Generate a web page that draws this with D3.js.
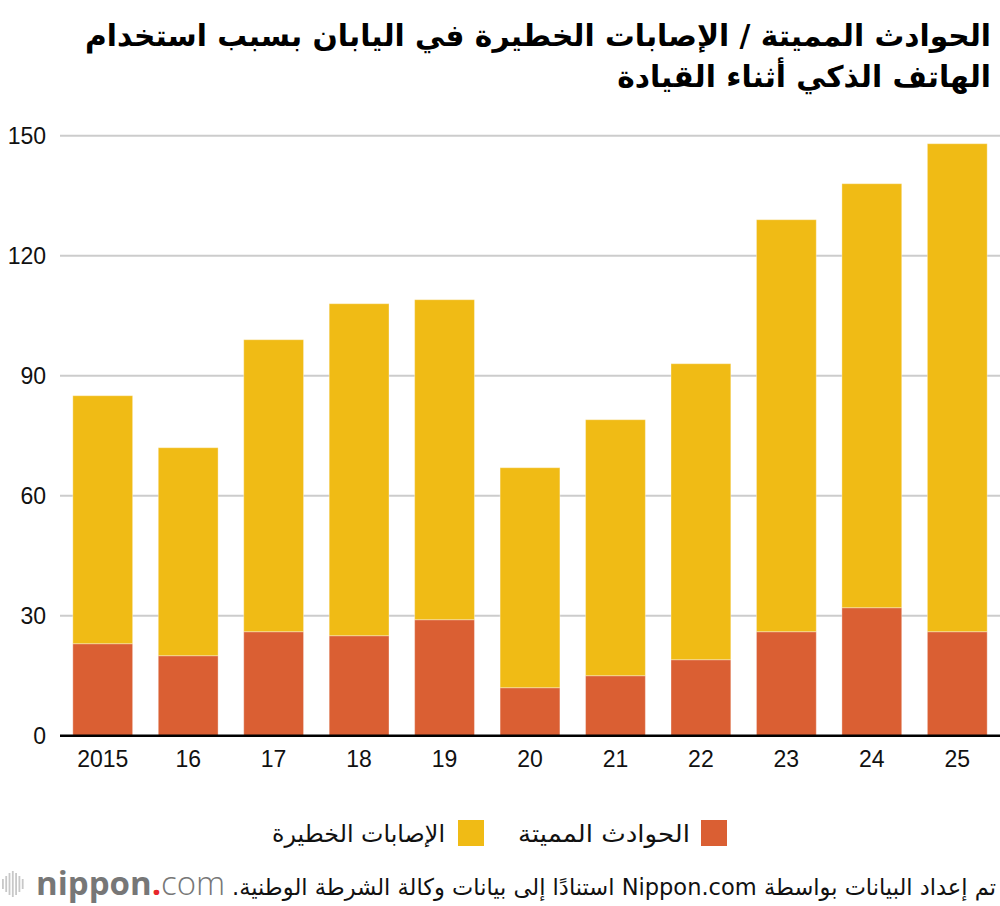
<!DOCTYPE html>
<html>
<head>
<meta charset="utf-8">
<script src="https://cdn.jsdelivr.net/npm/d3@7"></script>
<style>
  html, body { margin: 0; padding: 0; background: #fff; }
  svg { display: block; }
</style>
</head>
<body>
<svg id="chart" width="1000" height="906"></svg>
<script>
// data
const years = ["2015", "16", "17", "18", "19", "20", "21", "22", "23", "24", "25"];
const fatal = [23, 20, 26, 25, 29, 12, 15, 19, 26, 32, 26];
const serious = [62, 52, 73, 83, 80, 55, 64, 74, 103, 106, 122];
const yTicks = [0, 30, 60, 90, 120, 150];

const seriesNames = ["الحوادث المميتة", "الإصابات الخطيرة"];
const ORANGE = "#da5f33";
const YELLOW = "#f0bb15";

const ARABIC = "'DejaVu Sans', sans-serif";
const LATIN = "'Liberation Sans', Arial, sans-serif";

const svg = d3.select("#chart");

const x = d3.scaleBand()
    .domain(years)
    .range([60, 1000])
    .paddingInner(0.3)
    .paddingOuter(0.15);

const y = d3.scaleLinear()
    .domain([0, 150])
    .range([735.7, 135.7]);

// title, two right-aligned lines
const title = svg.append("text")
    .attr("direction", "rtl")
    .attr("text-anchor", "start")
    .attr("font-family", ARABIC)
    .attr("font-weight", "bold")
    .attr("font-size", 29.7)
    .attr("fill", "#000");
title.append("tspan").attr("x", 991).attr("y", 46)
    .text("الحوادث المميتة / الإصابات الخطيرة في اليابان بسبب استخدام");
title.append("tspan").attr("x", 991).attr("y", 87)
    .text("الهاتف الذكي أثناء القيادة");

// gridlines
svg.append("g")
    .selectAll("line")
    .data(yTicks.filter(d => d > 0))
    .join("line")
    .attr("x1", 60).attr("x2", 1000)
    .attr("y1", d => y(d)).attr("y2", d => y(d))
    .attr("stroke", "#cccccc")
    .attr("stroke-width", 2);

// y tick labels
svg.append("g")
    .selectAll("text")
    .data(yTicks)
    .join("text")
    .attr("x", 46)
    .attr("y", d => y(d))
    .attr("dy", "0.36em")
    .attr("text-anchor", "end")
    .attr("font-family", LATIN)
    .attr("font-size", 23)
    .attr("fill", "#111")
    .text(d => d);

// stacked bars
const rows = years.map((yr, i) => ({year: yr, fatal: fatal[i], serious: serious[i]}));
const stack = d3.stack().keys(["fatal", "serious"])(rows);
const colors = [ORANGE, YELLOW];

svg.append("g")
    .selectAll("g")
    .data(stack)
    .join("g")
    .attr("fill", (d, i) => colors[i])
    .selectAll("rect")
    .data(d => d)
    .join("rect")
    .attr("x", d => x(d.data.year))
    .attr("y", d => y(d[1]))
    .attr("width", x.bandwidth())
    .attr("height", d => y(d[0]) - y(d[1]))
    .attr("stroke", "rgba(255,255,255,0.35)")
    .attr("stroke-width", 1);

// x axis baseline
svg.append("line")
    .attr("x1", 60).attr("x2", 1000)
    .attr("y1", y(0)).attr("y2", y(0))
    .attr("stroke", "#000")
    .attr("stroke-width", 2.5);

// x labels
svg.append("g")
    .selectAll("text")
    .data(years)
    .join("text")
    .attr("x", d => x(d) + x.bandwidth() / 2)
    .attr("y", 767)
    .attr("text-anchor", "middle")
    .attr("font-family", LATIN)
    .attr("font-size", 23)
    .attr("fill", "#111")
    .text(d => d);

// legend
const legendItems = [
    {name: seriesNames[0], color: ORANGE, boxX: 701, textX: 690, w: 172},
    {name: seriesNames[1], color: YELLOW, boxX: 458, textX: 445, w: 173}
];
const lg = svg.append("g");
lg.selectAll("rect")
    .data(legendItems)
    .join("rect")
    .attr("x", d => d.boxX)
    .attr("y", 820)
    .attr("width", 26)
    .attr("height", 26)
    .attr("fill", d => d.color);
lg.selectAll("text")
    .data(legendItems)
    .join("text")
    .attr("x", d => d.textX)
    .attr("y", 842)
    .attr("direction", "rtl")
    .attr("text-anchor", "start")
    .attr("textLength", d => d.w)
    .attr("lengthAdjust", "spacingAndGlyphs")
    .attr("font-family", ARABIC)
    .attr("font-size", 24)
    .attr("fill", "#111")
    .text(d => d.name);

// source note
svg.append("text")
    .attr("x", 996)
    .attr("y", 895)
    .attr("direction", "rtl")
    .attr("text-anchor", "start")
    .attr("textLength", 764)
    .attr("lengthAdjust", "spacingAndGlyphs")
    .attr("font-family", ARABIC)
    .attr("font-size", 23)
    .attr("fill", "#111")
    .text("تم إعداد البيانات بواسطة Nippon.com استنادًا إلى بيانات وكالة الشرطة الوطنية.");

// nippon.com logo
const logo = svg.append("g");
const waveH = [10, 16, 22, 26, 22, 16, 10];
logo.selectAll("rect")
    .data(waveH)
    .join("rect")
    .attr("x", (d, i) => 2 + i * 3.3)
    .attr("y", d => 884 - d / 2)
    .attr("width", 1.8)
    .attr("height", d => d)
    .attr("fill", "#c8c8c8");
const lt = logo.append("text")
    .attr("x", 36)
    .attr("y", 895)
    .attr("font-family", "'Open Sans', sans-serif")
    .attr("font-size", 33)
    .attr("fill", "#777");
lt.append("tspan").attr("font-weight", "bold").text("nippon");
lt.append("tspan").attr("fill", "#e8272b").attr("font-weight", "bold").text(".");
lt.append("tspan").attr("font-weight", "300").text("com");
</script>
</body>
</html>
